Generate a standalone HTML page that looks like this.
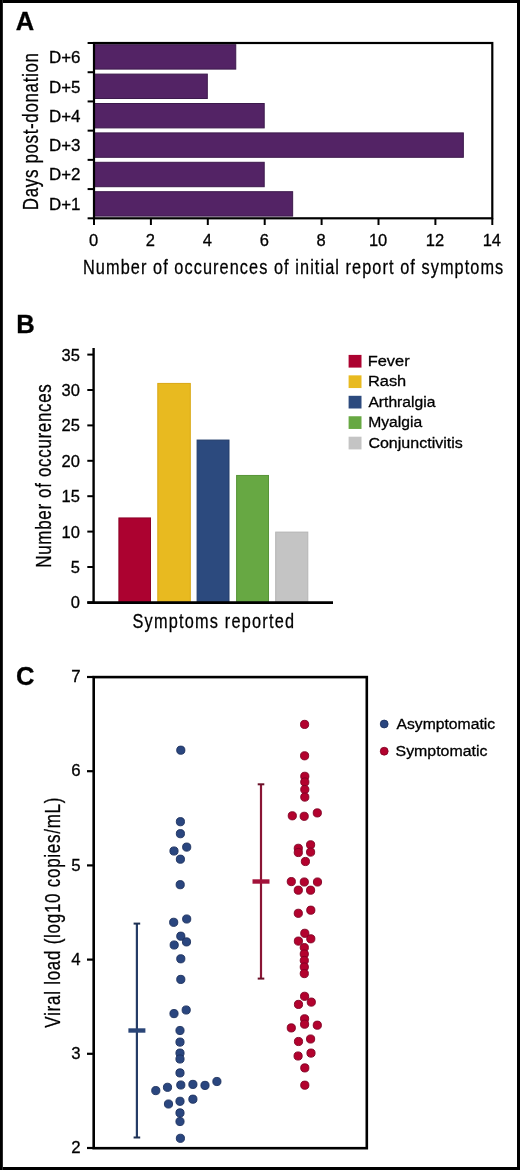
<!DOCTYPE html>
<html><head><meta charset="utf-8"><style>
html,body{margin:0;padding:0;background:#fff;}
body{width:520px;height:1170px;overflow:hidden;position:relative;}
.frame{position:absolute;left:0;top:0;width:520px;height:1170px;box-sizing:border-box;border:3px solid #000;border-left-width:2px;}
.lb{position:absolute;left:2px;top:0;width:1px;height:1170px;background:#2a2a2a;}
svg{position:absolute;left:0;top:0;}
text{font-family:"Liberation Sans", sans-serif;fill:#000;stroke:#000;stroke-width:0.3px;}
svg{will-change:transform;}
</style></head><body>
<svg width="520" height="1170" viewBox="0 0 520 1170">
<rect x="94.00" y="44.70" width="141.75" height="24.40" fill="#532365" stroke="#3c1a4c" stroke-width="1"/>
<rect x="94.00" y="74.10" width="113.30" height="24.40" fill="#532365" stroke="#3c1a4c" stroke-width="1"/>
<rect x="94.00" y="103.50" width="170.20" height="24.40" fill="#532365" stroke="#3c1a4c" stroke-width="1"/>
<rect x="94.00" y="132.90" width="369.35" height="24.40" fill="#532365" stroke="#3c1a4c" stroke-width="1"/>
<rect x="94.00" y="162.30" width="170.20" height="24.40" fill="#532365" stroke="#3c1a4c" stroke-width="1"/>
<rect x="94.00" y="191.70" width="198.65" height="24.40" fill="#532365" stroke="#3c1a4c" stroke-width="1"/>
<rect x="94.0" y="43.0" width="398.30" height="175.30" fill="none" stroke="#000" stroke-width="2.2"/>
<line x1="87.60" y1="43.00" x2="94.00" y2="43.00" stroke="#000" stroke-width="2"/>
<line x1="87.60" y1="72.22" x2="94.00" y2="72.22" stroke="#000" stroke-width="2"/>
<line x1="87.60" y1="101.43" x2="94.00" y2="101.43" stroke="#000" stroke-width="2"/>
<line x1="87.60" y1="130.65" x2="94.00" y2="130.65" stroke="#000" stroke-width="2"/>
<line x1="87.60" y1="159.87" x2="94.00" y2="159.87" stroke="#000" stroke-width="2"/>
<line x1="87.60" y1="189.08" x2="94.00" y2="189.08" stroke="#000" stroke-width="2"/>
<line x1="87.60" y1="218.30" x2="94.00" y2="218.30" stroke="#000" stroke-width="2"/>
<line x1="94.00" y1="218.30" x2="94.00" y2="225.00" stroke="#000" stroke-width="2"/>
<line x1="150.90" y1="218.30" x2="150.90" y2="225.00" stroke="#000" stroke-width="2"/>
<line x1="207.80" y1="218.30" x2="207.80" y2="225.00" stroke="#000" stroke-width="2"/>
<line x1="264.70" y1="218.30" x2="264.70" y2="225.00" stroke="#000" stroke-width="2"/>
<line x1="321.60" y1="218.30" x2="321.60" y2="225.00" stroke="#000" stroke-width="2"/>
<line x1="378.50" y1="218.30" x2="378.50" y2="225.00" stroke="#000" stroke-width="2"/>
<line x1="435.40" y1="218.30" x2="435.40" y2="225.00" stroke="#000" stroke-width="2"/>
<line x1="492.30" y1="218.30" x2="492.30" y2="225.00" stroke="#000" stroke-width="2"/>
<rect x="118.90" y="517.94" width="31.60" height="84.96" fill="#ac0230" stroke="#8c0027" stroke-width="1"/>
<rect x="157.80" y="383.42" width="32.50" height="219.48" fill="#e8ba20" stroke="#d9a815" stroke-width="1"/>
<rect x="197.10" y="440.06" width="31.90" height="162.84" fill="#2c4a7e" stroke="#233d6a" stroke-width="1"/>
<rect x="236.60" y="475.46" width="31.90" height="127.44" fill="#67a843" stroke="#579438" stroke-width="1"/>
<rect x="275.70" y="532.10" width="32.10" height="70.80" fill="#c4c4c4" stroke="#b5b5b5" stroke-width="1"/>
<line x1="93.60" y1="348.00" x2="93.60" y2="603.80" stroke="#000" stroke-width="2.4"/>
<line x1="87.30" y1="602.60" x2="333.00" y2="602.60" stroke="#000" stroke-width="2.6"/>
<line x1="87.30" y1="602.40" x2="93.60" y2="602.40" stroke="#000" stroke-width="2"/>
<line x1="87.30" y1="567.00" x2="93.60" y2="567.00" stroke="#000" stroke-width="2"/>
<line x1="87.30" y1="531.60" x2="93.60" y2="531.60" stroke="#000" stroke-width="2"/>
<line x1="87.30" y1="496.20" x2="93.60" y2="496.20" stroke="#000" stroke-width="2"/>
<line x1="87.30" y1="460.80" x2="93.60" y2="460.80" stroke="#000" stroke-width="2"/>
<line x1="87.30" y1="425.40" x2="93.60" y2="425.40" stroke="#000" stroke-width="2"/>
<line x1="87.30" y1="390.00" x2="93.60" y2="390.00" stroke="#000" stroke-width="2"/>
<line x1="87.30" y1="354.60" x2="93.60" y2="354.60" stroke="#000" stroke-width="2"/>
<rect x="348.60" y="354.90" width="12.90" height="12.70" fill="#ac0230"/>
<rect x="348.60" y="375.35" width="12.90" height="12.70" fill="#e8ba20"/>
<rect x="348.60" y="395.80" width="12.90" height="12.70" fill="#2c4a7e"/>
<rect x="348.60" y="416.25" width="12.90" height="12.70" fill="#67a843"/>
<rect x="348.60" y="436.70" width="12.90" height="12.70" fill="#c4c4c4"/>
<rect x="93.7" y="677.1" width="273.10" height="471.10" fill="none" stroke="#000" stroke-width="2.6"/>
<line x1="87.00" y1="1148.00" x2="93.70" y2="1148.00" stroke="#000" stroke-width="2.2"/>
<line x1="87.00" y1="1053.80" x2="93.70" y2="1053.80" stroke="#000" stroke-width="2.2"/>
<line x1="87.00" y1="959.60" x2="93.70" y2="959.60" stroke="#000" stroke-width="2.2"/>
<line x1="87.00" y1="865.40" x2="93.70" y2="865.40" stroke="#000" stroke-width="2.2"/>
<line x1="87.00" y1="771.20" x2="93.70" y2="771.20" stroke="#000" stroke-width="2.2"/>
<line x1="87.00" y1="677.00" x2="93.70" y2="677.00" stroke="#000" stroke-width="2.2"/>
<line x1="136.90" y1="923.60" x2="136.90" y2="1137.50" stroke="#253c66" stroke-width="2.2"/>
<line x1="133.60" y1="923.60" x2="140.20" y2="923.60" stroke="#1e3052" stroke-width="2.0"/>
<line x1="133.60" y1="1137.50" x2="140.20" y2="1137.50" stroke="#1e3052" stroke-width="2.0"/>
<line x1="128.40" y1="1030.50" x2="145.40" y2="1030.50" stroke="#2a4577" stroke-width="4.4"/>
<line x1="261.00" y1="784.30" x2="261.00" y2="978.60" stroke="#8a1535" stroke-width="2.2"/>
<line x1="257.70" y1="784.30" x2="264.30" y2="784.30" stroke="#6a1028" stroke-width="2.0"/>
<line x1="257.70" y1="978.60" x2="264.30" y2="978.60" stroke="#6a1028" stroke-width="2.0"/>
<line x1="252.50" y1="881.50" x2="269.50" y2="881.50" stroke="#a3123a" stroke-width="4.4"/>
<circle cx="180.8" cy="750.2" r="4.1" fill="#2a467f" stroke="#1c305c" stroke-width="0.9"/>
<circle cx="180.4" cy="821.7" r="4.1" fill="#2a467f" stroke="#1c305c" stroke-width="0.9"/>
<circle cx="180.4" cy="833.7" r="4.1" fill="#2a467f" stroke="#1c305c" stroke-width="0.9"/>
<circle cx="186.7" cy="847.1" r="4.1" fill="#2a467f" stroke="#1c305c" stroke-width="0.9"/>
<circle cx="174.0" cy="851.0" r="4.1" fill="#2a467f" stroke="#1c305c" stroke-width="0.9"/>
<circle cx="180.4" cy="859.2" r="4.1" fill="#2a467f" stroke="#1c305c" stroke-width="0.9"/>
<circle cx="180.2" cy="884.7" r="4.1" fill="#2a467f" stroke="#1c305c" stroke-width="0.9"/>
<circle cx="186.7" cy="919.0" r="4.1" fill="#2a467f" stroke="#1c305c" stroke-width="0.9"/>
<circle cx="173.7" cy="922.3" r="4.1" fill="#2a467f" stroke="#1c305c" stroke-width="0.9"/>
<circle cx="180.8" cy="936.2" r="4.1" fill="#2a467f" stroke="#1c305c" stroke-width="0.9"/>
<circle cx="186.5" cy="941.9" r="4.1" fill="#2a467f" stroke="#1c305c" stroke-width="0.9"/>
<circle cx="174.2" cy="945.0" r="4.1" fill="#2a467f" stroke="#1c305c" stroke-width="0.9"/>
<circle cx="180.8" cy="958.8" r="4.1" fill="#2a467f" stroke="#1c305c" stroke-width="0.9"/>
<circle cx="180.8" cy="979.4" r="4.1" fill="#2a467f" stroke="#1c305c" stroke-width="0.9"/>
<circle cx="186.2" cy="1010.0" r="4.1" fill="#2a467f" stroke="#1c305c" stroke-width="0.9"/>
<circle cx="174.0" cy="1013.6" r="4.1" fill="#2a467f" stroke="#1c305c" stroke-width="0.9"/>
<circle cx="180.0" cy="1030.5" r="4.1" fill="#2a467f" stroke="#1c305c" stroke-width="0.9"/>
<circle cx="180.0" cy="1042.1" r="4.1" fill="#2a467f" stroke="#1c305c" stroke-width="0.9"/>
<circle cx="180.0" cy="1053.1" r="4.1" fill="#2a467f" stroke="#1c305c" stroke-width="0.9"/>
<circle cx="180.0" cy="1059.0" r="4.1" fill="#2a467f" stroke="#1c305c" stroke-width="0.9"/>
<circle cx="180.0" cy="1072.9" r="4.1" fill="#2a467f" stroke="#1c305c" stroke-width="0.9"/>
<circle cx="180.8" cy="1085.0" r="4.1" fill="#2a467f" stroke="#1c305c" stroke-width="0.9"/>
<circle cx="192.9" cy="1084.4" r="4.1" fill="#2a467f" stroke="#1c305c" stroke-width="0.9"/>
<circle cx="205.0" cy="1085.4" r="4.1" fill="#2a467f" stroke="#1c305c" stroke-width="0.9"/>
<circle cx="216.9" cy="1081.5" r="4.1" fill="#2a467f" stroke="#1c305c" stroke-width="0.9"/>
<circle cx="167.5" cy="1087.3" r="4.1" fill="#2a467f" stroke="#1c305c" stroke-width="0.9"/>
<circle cx="155.8" cy="1090.6" r="4.1" fill="#2a467f" stroke="#1c305c" stroke-width="0.9"/>
<circle cx="192.9" cy="1099.2" r="4.1" fill="#2a467f" stroke="#1c305c" stroke-width="0.9"/>
<circle cx="180.0" cy="1101.3" r="4.1" fill="#2a467f" stroke="#1c305c" stroke-width="0.9"/>
<circle cx="168.5" cy="1104.0" r="4.1" fill="#2a467f" stroke="#1c305c" stroke-width="0.9"/>
<circle cx="180.0" cy="1112.9" r="4.1" fill="#2a467f" stroke="#1c305c" stroke-width="0.9"/>
<circle cx="180.0" cy="1121.5" r="4.1" fill="#2a467f" stroke="#1c305c" stroke-width="0.9"/>
<circle cx="180.4" cy="1138.3" r="4.1" fill="#2a467f" stroke="#1c305c" stroke-width="0.9"/>
<circle cx="304.6" cy="724.4" r="4.1" fill="#b3022e" stroke="#7e0022" stroke-width="0.9"/>
<circle cx="304.6" cy="755.8" r="4.1" fill="#b3022e" stroke="#7e0022" stroke-width="0.9"/>
<circle cx="304.8" cy="776.3" r="4.1" fill="#b3022e" stroke="#7e0022" stroke-width="0.9"/>
<circle cx="304.8" cy="782.0" r="4.1" fill="#b3022e" stroke="#7e0022" stroke-width="0.9"/>
<circle cx="304.8" cy="789.5" r="4.1" fill="#b3022e" stroke="#7e0022" stroke-width="0.9"/>
<circle cx="304.8" cy="797.1" r="4.1" fill="#b3022e" stroke="#7e0022" stroke-width="0.9"/>
<circle cx="292.3" cy="815.8" r="4.1" fill="#b3022e" stroke="#7e0022" stroke-width="0.9"/>
<circle cx="304.2" cy="816.3" r="4.1" fill="#b3022e" stroke="#7e0022" stroke-width="0.9"/>
<circle cx="317.3" cy="812.9" r="4.1" fill="#b3022e" stroke="#7e0022" stroke-width="0.9"/>
<circle cx="298.3" cy="848.3" r="4.1" fill="#b3022e" stroke="#7e0022" stroke-width="0.9"/>
<circle cx="298.3" cy="852.5" r="4.1" fill="#b3022e" stroke="#7e0022" stroke-width="0.9"/>
<circle cx="310.6" cy="844.8" r="4.1" fill="#b3022e" stroke="#7e0022" stroke-width="0.9"/>
<circle cx="310.6" cy="852.1" r="4.1" fill="#b3022e" stroke="#7e0022" stroke-width="0.9"/>
<circle cx="305.4" cy="861.5" r="4.1" fill="#b3022e" stroke="#7e0022" stroke-width="0.9"/>
<circle cx="291.3" cy="881.6" r="4.1" fill="#b3022e" stroke="#7e0022" stroke-width="0.9"/>
<circle cx="304.3" cy="882.0" r="4.1" fill="#b3022e" stroke="#7e0022" stroke-width="0.9"/>
<circle cx="317.5" cy="882.0" r="4.1" fill="#b3022e" stroke="#7e0022" stroke-width="0.9"/>
<circle cx="298.3" cy="890.2" r="4.1" fill="#b3022e" stroke="#7e0022" stroke-width="0.9"/>
<circle cx="310.6" cy="890.2" r="4.1" fill="#b3022e" stroke="#7e0022" stroke-width="0.9"/>
<circle cx="298.3" cy="913.3" r="4.1" fill="#b3022e" stroke="#7e0022" stroke-width="0.9"/>
<circle cx="310.8" cy="910.2" r="4.1" fill="#b3022e" stroke="#7e0022" stroke-width="0.9"/>
<circle cx="304.8" cy="933.3" r="4.1" fill="#b3022e" stroke="#7e0022" stroke-width="0.9"/>
<circle cx="310.8" cy="938.8" r="4.1" fill="#b3022e" stroke="#7e0022" stroke-width="0.9"/>
<circle cx="298.4" cy="941.1" r="4.1" fill="#b3022e" stroke="#7e0022" stroke-width="0.9"/>
<circle cx="304.3" cy="947.6" r="4.1" fill="#b3022e" stroke="#7e0022" stroke-width="0.9"/>
<circle cx="304.3" cy="954.0" r="4.1" fill="#b3022e" stroke="#7e0022" stroke-width="0.9"/>
<circle cx="304.3" cy="960.5" r="4.1" fill="#b3022e" stroke="#7e0022" stroke-width="0.9"/>
<circle cx="304.3" cy="967.0" r="4.1" fill="#b3022e" stroke="#7e0022" stroke-width="0.9"/>
<circle cx="304.3" cy="973.6" r="4.1" fill="#b3022e" stroke="#7e0022" stroke-width="0.9"/>
<circle cx="304.6" cy="996.3" r="4.1" fill="#b3022e" stroke="#7e0022" stroke-width="0.9"/>
<circle cx="311.3" cy="1002.1" r="4.1" fill="#b3022e" stroke="#7e0022" stroke-width="0.9"/>
<circle cx="298.5" cy="1004.4" r="4.1" fill="#b3022e" stroke="#7e0022" stroke-width="0.9"/>
<circle cx="304.6" cy="1018.8" r="4.1" fill="#b3022e" stroke="#7e0022" stroke-width="0.9"/>
<circle cx="304.6" cy="1024.2" r="4.1" fill="#b3022e" stroke="#7e0022" stroke-width="0.9"/>
<circle cx="291.3" cy="1027.9" r="4.1" fill="#b3022e" stroke="#7e0022" stroke-width="0.9"/>
<circle cx="317.3" cy="1025.2" r="4.1" fill="#b3022e" stroke="#7e0022" stroke-width="0.9"/>
<circle cx="298.5" cy="1041.5" r="4.1" fill="#b3022e" stroke="#7e0022" stroke-width="0.9"/>
<circle cx="310.6" cy="1039.0" r="4.1" fill="#b3022e" stroke="#7e0022" stroke-width="0.9"/>
<circle cx="298.1" cy="1056.0" r="4.1" fill="#b3022e" stroke="#7e0022" stroke-width="0.9"/>
<circle cx="311.0" cy="1053.1" r="4.1" fill="#b3022e" stroke="#7e0022" stroke-width="0.9"/>
<circle cx="304.8" cy="1067.9" r="4.1" fill="#b3022e" stroke="#7e0022" stroke-width="0.9"/>
<circle cx="304.8" cy="1085.2" r="4.1" fill="#b3022e" stroke="#7e0022" stroke-width="0.9"/>
<circle cx="384.2" cy="724.0" r="3.95" fill="#2a467f" stroke="#1c305c" stroke-width="0.8"/>
<circle cx="384.2" cy="751.2" r="3.95" fill="#b3022e" stroke="#7e0022" stroke-width="0.8"/>
<text transform="translate(15.85,30.38)" font-size="25.50" font-weight="bold">A</text>
<text transform="translate(16.25,332.77)" font-size="25.60" font-weight="bold">B</text>
<text transform="translate(15.90,685.13)" font-size="25.60" font-weight="bold">C</text>
<text transform="translate(48.95,63.42)" font-size="16.40" textLength="31.60" lengthAdjust="spacingAndGlyphs">D+6</text>
<text transform="translate(48.95,92.64)" font-size="16.40" textLength="31.60" lengthAdjust="spacingAndGlyphs">D+5</text>
<text transform="translate(48.95,121.86)" font-size="16.40" textLength="31.60" lengthAdjust="spacingAndGlyphs">D+4</text>
<text transform="translate(48.95,151.07)" font-size="16.40" textLength="31.60" lengthAdjust="spacingAndGlyphs">D+3</text>
<text transform="translate(48.95,180.29)" font-size="16.40" textLength="31.60" lengthAdjust="spacingAndGlyphs">D+2</text>
<text transform="translate(48.95,209.51)" font-size="16.40" textLength="31.60" lengthAdjust="spacingAndGlyphs">D+1</text>
<text transform="translate(37.77,210.20) rotate(-90) scale(0.78,1)" font-size="21.80" textLength="201.54" lengthAdjust="spacing" stroke-width="0.55">Days post-donation</text>
<text transform="translate(83.03,274.00) scale(0.78,1)" font-size="20.90" textLength="538.78" lengthAdjust="spacing" stroke-width="0.55">Number of occurences of initial report of symptoms</text>
<text transform="translate(93.55,246.47)" font-size="16.50" text-anchor="middle">0</text>
<text transform="translate(150.45,246.47)" font-size="16.50" text-anchor="middle">2</text>
<text transform="translate(207.35,246.47)" font-size="16.50" text-anchor="middle">4</text>
<text transform="translate(264.25,246.47)" font-size="16.50" text-anchor="middle">6</text>
<text transform="translate(321.15,246.47)" font-size="16.50" text-anchor="middle">8</text>
<text transform="translate(378.05,246.47)" font-size="16.50" text-anchor="middle">10</text>
<text transform="translate(434.95,246.47)" font-size="16.50" text-anchor="middle">12</text>
<text transform="translate(491.85,246.47)" font-size="16.50" text-anchor="middle">14</text>
<text transform="translate(79.83,360.50)" font-size="16.50" text-anchor="end">35</text>
<text transform="translate(79.83,395.90)" font-size="16.50" text-anchor="end">30</text>
<text transform="translate(79.83,431.30)" font-size="16.50" text-anchor="end">25</text>
<text transform="translate(79.83,466.70)" font-size="16.50" text-anchor="end">20</text>
<text transform="translate(79.83,502.10)" font-size="16.50" text-anchor="end">15</text>
<text transform="translate(79.83,537.50)" font-size="16.50" text-anchor="end">10</text>
<text transform="translate(79.83,572.90)" font-size="16.50" text-anchor="end">5</text>
<text transform="translate(79.83,608.30)" font-size="16.50" text-anchor="end">0</text>
<text transform="translate(51.07,475.95) rotate(-90) scale(0.78,1)" font-size="21.80" text-anchor="middle" textLength="235.26" lengthAdjust="spacing" stroke-width="0.55">Number of occurences</text>
<text transform="translate(132.47,627.52) scale(0.78,1)" font-size="20.90" textLength="207.12" lengthAdjust="spacing" stroke-width="0.55">Symptoms reported</text>
<text transform="translate(367.70,366.00)" font-size="15.20" textLength="41.90" lengthAdjust="spacingAndGlyphs">Fever</text>
<text transform="translate(367.92,386.30)" font-size="15.20" textLength="38.35" lengthAdjust="spacingAndGlyphs">Rash</text>
<text transform="translate(368.38,407.00)" font-size="15.20" textLength="67.05" lengthAdjust="spacingAndGlyphs">Arthralgia</text>
<text transform="translate(368.15,427.20)" font-size="15.20" textLength="54.00" lengthAdjust="spacingAndGlyphs">Myalgia</text>
<text transform="translate(368.38,447.90)" font-size="15.20" textLength="94.45" lengthAdjust="spacingAndGlyphs">Conjunctivitis</text>
<text transform="translate(80.47,682.13)" font-size="16.80" text-anchor="end">7</text>
<text transform="translate(80.47,776.33)" font-size="16.80" text-anchor="end">6</text>
<text transform="translate(80.47,870.53)" font-size="16.80" text-anchor="end">5</text>
<text transform="translate(80.47,964.73)" font-size="16.80" text-anchor="end">4</text>
<text transform="translate(80.47,1058.93)" font-size="16.80" text-anchor="end">3</text>
<text transform="translate(80.47,1153.13)" font-size="16.80" text-anchor="end">2</text>
<text transform="translate(60.23,912.60) rotate(-90) scale(0.78,1)" font-size="21.80" text-anchor="middle" textLength="295.00" lengthAdjust="spacing" stroke-width="0.55">Viral load (log10 copies/mL)</text>
<text transform="translate(396.43,729.00)" font-size="15.20" textLength="98.75" lengthAdjust="spacingAndGlyphs">Asymptomatic</text>
<text transform="translate(395.52,755.80)" font-size="15.20" textLength="91.95" lengthAdjust="spacingAndGlyphs">Symptomatic</text>
</svg>
<div class="frame"></div><div class="lb"></div>
</body></html>
